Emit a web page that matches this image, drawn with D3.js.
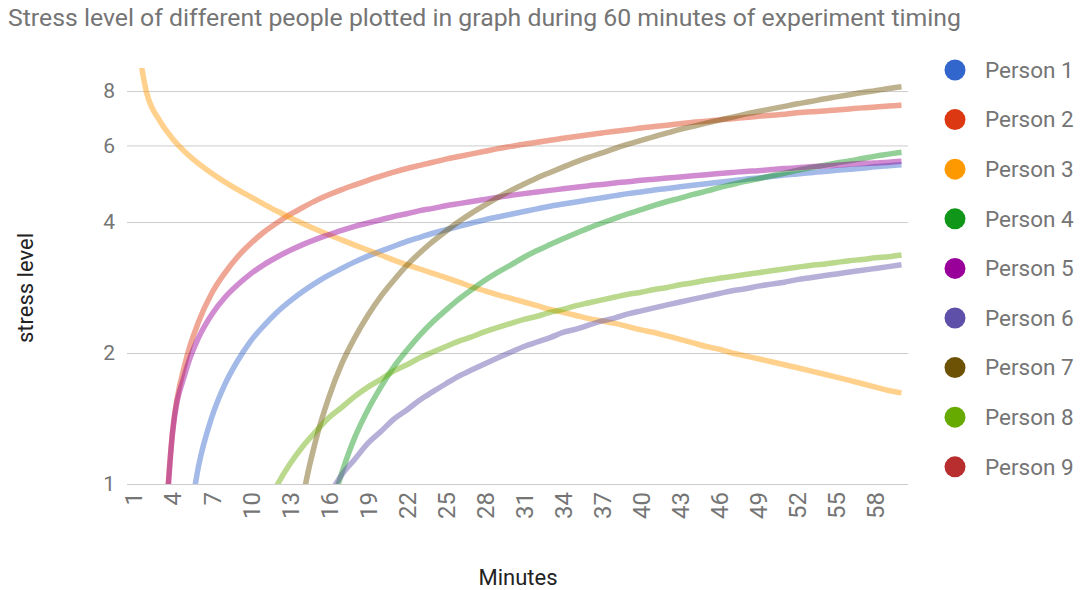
<!DOCTYPE html>
<html>
<head>
<meta charset="utf-8">
<script src="https://cdn.jsdelivr.net/npm/d3@7"></script>
<style>
  body { margin: 0; background: #fff; }
  svg { display: block; font-family: Roboto, Arial, sans-serif; }
</style>
</head>
<body>
<svg id="chart" width="1086" height="590"></svg>
<script>
// Minutes of the experiment (one reading per minute)
const minutes = d3.range(1, 61);
const tickMinutes = [1, 4, 7, 10, 13, 16, 19, 22, 25, 28, 31, 34, 37, 40, 43, 46, 49, 52, 55, 58];
const stressTicks = [1, 2, 4, 6, 8];
const stressMax = 9.04;

const seriesNames = ["Person 1", "Person 2", "Person 3", "Person 4", "Person 5",
                     "Person 6", "Person 7", "Person 8", "Person 9"];
const seriesColors = ["#3366cc", "#dc3912", "#ff9900", "#109618", "#990099",
                      "#5e50a8", "#6d5205", "#66aa00", "#b82e2e"];

// Stress level per minute (null = no reading)
const person1 = [
  null, null, null, null, 0.71, 1.10, 1.42, 1.69, 1.92, 2.13,
  2.31, 2.48, 2.63, 2.77, 2.90, 3.02, 3.13, 3.24, 3.34, 3.43,
  3.52, 3.61, 3.69, 3.77, 3.84, 3.91, 3.98, 4.05, 4.11, 4.17,
  4.23, 4.29, 4.35, 4.40, 4.45, 4.50, 4.55, 4.60, 4.65, 4.69,
  4.74, 4.78, 4.82, 4.86, 4.90, 4.94, 4.98, 5.02, 5.05, 5.09,
  5.13, 5.16, 5.19, 5.23, 5.26, 5.29, 5.32, 5.36, 5.39, 5.42
];
const person2 = [
  null, null, 0.49, 1.32, 1.91, 2.36, 2.74, 3.05, 3.33, 3.57,
  3.79, 3.98, 4.16, 4.32, 4.48, 4.62, 4.75, 4.87, 4.99, 5.10,
  5.21, 5.31, 5.40, 5.49, 5.58, 5.66, 5.74, 5.82, 5.90, 5.97,
  6.04, 6.10, 6.17, 6.23, 6.29, 6.35, 6.41, 6.47, 6.52, 6.58,
  6.63, 6.68, 6.73, 6.78, 6.82, 6.87, 6.91, 6.96, 7.00, 7.04,
  7.08, 7.13, 7.17, 7.20, 7.24, 7.28, 7.32, 7.35, 7.39, 7.42
];
const person3 = [
  12.0, 7.95, 6.85, 6.22, 5.78, 5.45, 5.18, 4.95, 4.75, 4.57,
  4.40, 4.24, 4.10, 3.97, 3.85, 3.74, 3.64, 3.54, 3.45, 3.36,
  3.27, 3.19, 3.12, 3.05, 2.98, 2.91, 2.84, 2.78, 2.72, 2.67,
  2.62, 2.57, 2.52, 2.48, 2.44, 2.40, 2.37, 2.34, 2.30, 2.26,
  2.23, 2.19, 2.15, 2.11, 2.07, 2.04, 2.00, 1.97, 1.94, 1.91,
  1.88, 1.85, 1.82, 1.79, 1.76, 1.73, 1.70, 1.67, 1.64, 1.62
];
const person4 = [
  null, null, null, null, null, null, null, null, null, null,
  null, null, null, null, null, 0.84, 1.06, 1.28, 1.48, 1.67,
  1.86, 2.03, 2.20, 2.36, 2.51, 2.66, 2.80, 2.94, 3.07, 3.19,
  3.32, 3.44, 3.55, 3.66, 3.77, 3.88, 3.98, 4.08, 4.18, 4.27,
  4.37, 4.46, 4.54, 4.63, 4.71, 4.80, 4.88, 4.96, 5.03, 5.11,
  5.18, 5.26, 5.33, 5.40, 5.47, 5.53, 5.60, 5.67, 5.73, 5.79
];
const person5 = [
  null, null, 0.44, 1.31, 1.81, 2.17, 2.45, 2.68, 2.87, 3.04,
  3.19, 3.32, 3.44, 3.55, 3.65, 3.74, 3.83, 3.91, 3.98, 4.05,
  4.12, 4.18, 4.25, 4.30, 4.36, 4.41, 4.46, 4.51, 4.56, 4.61,
  4.65, 4.69, 4.73, 4.77, 4.81, 4.85, 4.88, 4.92, 4.95, 4.99,
  5.02, 5.05, 5.08, 5.11, 5.14, 5.17, 5.20, 5.23, 5.25, 5.28,
  5.31, 5.33, 5.36, 5.38, 5.40, 5.43, 5.45, 5.47, 5.49, 5.52
];
const person6 = [
  null, null, null, null, null, null, null, null, null, null,
  null, null, null, null, 0.83, 0.94, 1.05, 1.14, 1.24, 1.32,
  1.41, 1.48, 1.56, 1.63, 1.70, 1.77, 1.83, 1.89, 1.95, 2.01,
  2.07, 2.12, 2.17, 2.23, 2.27, 2.32, 2.37, 2.41, 2.46, 2.50,
  2.54, 2.58, 2.62, 2.66, 2.70, 2.74, 2.78, 2.81, 2.85, 2.88,
  2.91, 2.95, 2.98, 3.01, 3.04, 3.07, 3.10, 3.13, 3.16, 3.19
];
const person7 = [
  null, null, null, null, null, null, null, null, null, null,
  null, null, 0.54, 0.92, 1.26, 1.58, 1.89, 2.17, 2.44, 2.70,
  2.94, 3.18, 3.40, 3.61, 3.81, 4.01, 4.20, 4.38, 4.56, 4.73,
  4.89, 5.05, 5.20, 5.35, 5.50, 5.64, 5.77, 5.91, 6.04, 6.16,
  6.29, 6.41, 6.53, 6.64, 6.75, 6.86, 6.97, 7.08, 7.18, 7.28,
  7.38, 7.48, 7.57, 7.67, 7.76, 7.85, 7.94, 8.02, 8.11, 8.19
];
const person8 = [
  null, null, null, null, null, null, null, null, null, null,
  0.86, 0.99, 1.11, 1.22, 1.32, 1.42, 1.50, 1.59, 1.67, 1.74,
  1.82, 1.88, 1.95, 2.01, 2.07, 2.13, 2.18, 2.24, 2.29, 2.34,
  2.39, 2.43, 2.48, 2.52, 2.57, 2.61, 2.65, 2.69, 2.73, 2.76,
  2.80, 2.83, 2.87, 2.90, 2.94, 2.97, 3.00, 3.03, 3.06, 3.09,
  3.12, 3.15, 3.18, 3.20, 3.23, 3.26, 3.28, 3.31, 3.33, 3.36
];
const person9 = [];

const seriesValues = [person1, person2, person3, person4, person5,
                      person6, person7, person8, person9];

// ---- layout ----
const svg = d3.select("#chart");
const plot = { left: 127, right: 908, top: 68, bottom: 484 };
const textGray = "#757575";

const x = d3.scalePoint().domain(minutes).range([plot.left, plot.right]).padding(0.5);
const y = d3.scaleLog().domain([1, stressMax]).range([plot.bottom, plot.top]);

// title
svg.append("text")
  .attr("x", 8).attr("y", 26)
  .attr("fill", textGray)
  .attr("font-size", 24.8)
  .text("Stress level of different people plotted in graph during 60 minutes of experiment timing");

// horizontal gridlines + y tick labels
const yAxis = d3.axisLeft(y)
  .tickValues(stressTicks)
  .tickFormat(d3.format("d"))
  .tickSize(-(plot.right - plot.left))
  .tickPadding(12);

const gy = svg.append("g")
  .attr("transform", `translate(${plot.left},0)`)
  .call(yAxis);
gy.select(".domain").remove();
gy.selectAll(".tick line").attr("stroke", "#cccccc");
gy.selectAll(".tick text")
  .attr("fill", textGray)
  .attr("font-size", 21)
  .attr("font-family", "Roboto, Arial, sans-serif");

// x tick labels (rotated)
const xAxis = d3.axisBottom(x).tickValues(tickMinutes).tickSize(0).tickPadding(0);
const gx = svg.append("g")
  .attr("transform", `translate(0,${plot.bottom})`)
  .call(xAxis);
gx.select(".domain").remove();
gx.selectAll(".tick text")
  .attr("fill", textGray)
  .attr("font-size", 24)
  .attr("font-family", "Roboto, Arial, sans-serif")
  .attr("text-anchor", "end")
  .attr("transform", "translate(0,8) rotate(-90)")
  .attr("x", 0).attr("y", 0)
  .attr("dy", "0.35em");

// axis titles
svg.append("text")
  .attr("transform", "translate(33,288) rotate(-90)")
  .attr("text-anchor", "middle")
  .attr("fill", "#222")
  .attr("font-size", 22)
  .text("stress level");

svg.append("text")
  .attr("x", 518).attr("y", 585)
  .attr("text-anchor", "middle")
  .attr("fill", "#222")
  .attr("font-size", 22)
  .text("Minutes");

// lines
svg.append("clipPath").attr("id", "plot-clip")
  .append("rect")
  .attr("x", plot.left).attr("y", plot.top)
  .attr("width", plot.right - plot.left)
  .attr("height", plot.bottom - plot.top);

const line = d3.line()
  .defined(d => d.v != null)
  .x(d => x(d.m))
  .y(d => y(d.v))
  .curve(d3.curveMonotoneX);

const gLines = svg.append("g").attr("clip-path", "url(#plot-clip)");
seriesValues.forEach((vals, i) => {
  const pts = minutes.map((m, k) => ({ m, v: vals[k] == null ? null : vals[k] }));
  if (!pts.some(p => p.v != null)) return;
  gLines.append("path")
    .datum(pts)
    .attr("d", line)
    .attr("fill", "none")
    .attr("stroke", seriesColors[i])
    .attr("stroke-opacity", 0.45)
    .attr("stroke-width", 5.5);
});

// legend
const legend = svg.append("g");
seriesNames.forEach((name, i) => {
  const cy = 70 + i * 49.6;
  legend.append("circle")
    .attr("cx", 955).attr("cy", cy).attr("r", 10.5)
    .attr("fill", seriesColors[i]);
  legend.append("text")
    .attr("x", 985).attr("y", cy).attr("dy", "0.35em")
    .attr("fill", textGray)
    .attr("font-size", 22.5)
    .text(name);
});
</script>
</body>
</html>
